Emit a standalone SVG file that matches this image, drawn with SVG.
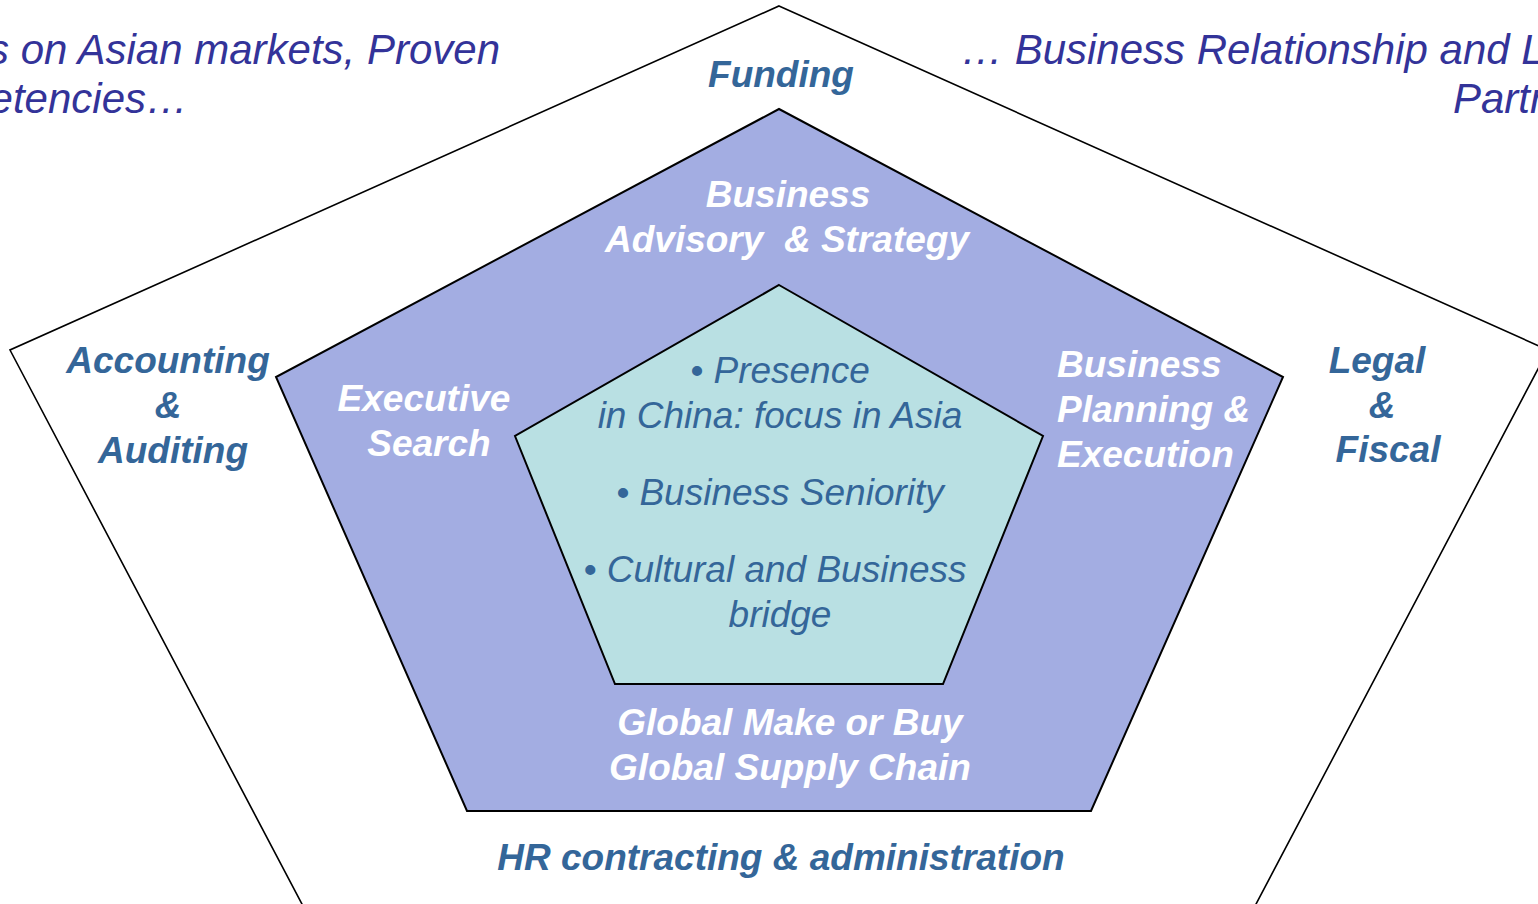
<svg xmlns="http://www.w3.org/2000/svg" width="1538" height="904" viewBox="0 0 1538 904">
  <style>
    text { font-family: "Liberation Sans", Arial, sans-serif; font-size: 37px; font-style: italic; }
    .ring { fill: none; stroke: #000; stroke-width: 1.6; }
    .mid { fill: #A3ADE2; stroke: #000; stroke-width: 2; }
    .core { fill: #B9E0E3; stroke: #000; stroke-width: 2; }
    .lbl { font-weight: bold; fill: #346699; text-anchor: middle; }
    .wht { font-weight: bold; fill: #FFFFFF; text-anchor: middle; }
    .wht.left { text-anchor: start; }
    .core-t { fill: #346699; text-anchor: middle; }
    .head { fill: #333399; font-size: 42px; }
    .head.end { text-anchor: end; }
  </style>

  <!-- concentric pentagons -->
  <g id="outer-ring">
    <polygon class="ring" points="779,6 1548,350 1255,906 303,906 10,350"/>
  </g>
  <g id="service-ring">
    <polygon class="mid" points="779,109 1283,377 1091,811 467,811 276,377"/>
  </g>
  <g id="core">
    <polygon class="core" points="779,285 1043,436 943,684 615,684 515,436"/>
  </g>

  <!-- headline text running off the edges -->
  <g id="headline-left">
    <text class="head end" x="500" y="64">s on Asian markets, Proven</text>
    <text class="head end" x="188" y="113">etencies…</text>
  </g>
  <g id="headline-right">
    <text class="head" x="961" y="64">… Business Relationship and L</text>
    <text class="head" x="1453" y="113">Partr</text>
  </g>

  <!-- outer ring labels -->
  <g id="funding"><text class="lbl" x="781" y="87">Funding</text></g>
  <g id="accounting">
    <text class="lbl" x="168" y="373">Accounting</text>
    <text class="lbl" x="168" y="418">&amp;</text>
    <text class="lbl" x="173" y="463">Auditing</text>
  </g>
  <g id="legal">
    <text class="lbl" x="1377" y="373">Legal</text>
    <text class="lbl" x="1382" y="418">&amp;</text>
    <text class="lbl" x="1388" y="462">Fiscal</text>
  </g>
  <g id="hr"><text class="lbl" x="781" y="870">HR contracting &amp; administration</text></g>

  <!-- service ring labels -->
  <g id="advisory">
    <text class="wht" x="788" y="207">Business</text>
    <text class="wht" x="787" y="252" xml:space="preserve">Advisory  &amp; Strategy</text>
  </g>
  <g id="executive">
    <text class="wht" x="424" y="411">Executive</text>
    <text class="wht" x="429" y="456">Search</text>
  </g>
  <g id="planning">
    <text class="wht left" x="1057" y="377">Business</text>
    <text class="wht left" x="1057" y="422">Planning &amp;</text>
    <text class="wht left" x="1057" y="467">Execution</text>
  </g>
  <g id="supply">
    <text class="wht" x="790" y="735">Global Make or Buy</text>
    <text class="wht" x="790" y="780">Global Supply Chain</text>
  </g>

  <!-- core statements -->
  <g id="core-text">
    <text class="core-t" x="780" y="383">• Presence</text>
    <text class="core-t" x="780" y="428">in China: focus in Asia</text>
    <text class="core-t" x="780" y="505">• Business Seniority</text>
    <text class="core-t" x="775" y="582">• Cultural and Business</text>
    <text class="core-t" x="780" y="627">bridge</text>
  </g>
</svg>
